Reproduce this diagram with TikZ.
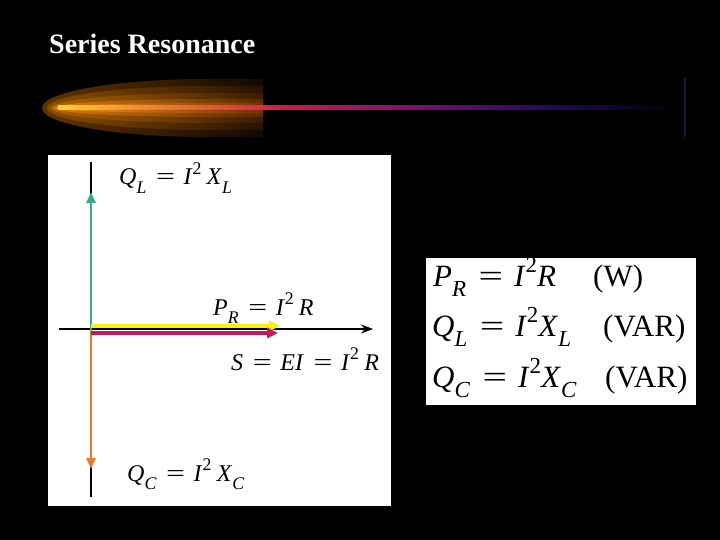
\documentclass[tikz,border=0pt]{standalone}
\usepackage{fontspec}
\usepackage{graphicx}
\setmainfont{Liberation Serif}
\usetikzlibrary{arrows.meta}
\newcommand{\lsub}[1]{\raisebox{-0.34em}{\scalebox{0.74}{\textit{#1}}}}
\newcommand{\lsup}[1]{\raisebox{0.42em}{\scalebox{0.74}{#1}}}
\newcommand{\myeq}{\hspace{0.4em}\scalebox{1.4}[1]{=}\hspace{0.36em}}
\definecolor{qlgreen}{HTML}{3AAA8C}
\definecolor{qcorange}{HTML}{E8782E}
\definecolor{pryellow}{HTML}{FFF000}
\definecolor{scrimson}{HTML}{C8185A}
\tikzset{
  lbl/.style={anchor=base west, font=\fontsize{24}{26}\selectfont, inner sep=0pt},
  eqn/.style={anchor=base west, font=\fontsize{31}{34}\selectfont, inner sep=0pt},
  vec/.style={line width=2.8pt, -{Triangle[length=11pt,width=9pt]}},
  hvec/.style={line width=4pt, -{Triangle[length=11pt,width=10pt]}},
  axis/.style={line width=1.1pt, black},
}
\begin{document}
\begin{tikzpicture}[x=1pt,y=-1pt]
\fill[black] (0,0) rectangle (720,540);
\useasboundingbox (0,0) rectangle (720,540);
% comet glow layers
\foreach \h/\lx/\lc/\rc in {29/42/603400/120800, 22/47/8A4C00/261200, 15/51/B06200/3A1C00, 9/54/D87C10/5A2A00, 5/56/F49420/7A3000}{
  \definecolor{lcol}{HTML}{\lc}\definecolor{rcol}{HTML}{\rc}
  \pgfmathsetmacro{\rx}{(263-\lx)*0.75}
  \pgfmathsetmacro{\cx}{\lx+\rx}
  \shade[left color=lcol, right color=rcol] (263,108-\h) -- (\cx,108-\h) arc[start angle=270,end angle=90,x radius=\rx,y radius=\h] -- (263,108+\h) -- cycle;
}
% core line
\foreach \xa/\xb/\ca/\cb in {58/110/FFD040/F8A030, 110/200/F8A030/E06030, 200/290/E06030/C81850, 290/420/C81850/781070, 420/550/781070/200860, 550/680/200860/000000}{
  \definecolor{ca}{HTML}{\ca}\definecolor{cb}{HTML}{\cb}
  \shade[left color=ca, right color=cb] (\xa,106) rectangle (\xb,110);
}
\coordinate (vt) at (685,78);
\coordinate (vb) at (685,137);
\draw[line width=1.5pt, color={rgb,255:red,40;green,16;blue,64}] (vt) -- (vb);
% title
\node[anchor=base west, inner sep=0pt, text=white, font=\fontsize{28}{32}\selectfont\bfseries] (title) at (49,54) {Series Resonance};
% panels
\fill[white] (48,155) rectangle (391,506);
\fill[white] (426,258) rectangle (696,405);
% axes
\coordinate (O) at (91,329);
\coordinate (ytop) at (91,162);
\coordinate (ybot) at (91,497);
\coordinate (xl) at (59,329);
\coordinate (xr) at (373,329);
\draw[axis] (ytop) -- (ybot);
\draw[axis, -{Stealth[length=12pt,width=9pt]}] (xl) -- (xr);
% vectors
\coordinate (QLtip) at (91,192);
\coordinate (QCtip) at (91,469);
\coordinate (Py0) at (91,326);
\coordinate (Py1) at (280,326);
\coordinate (Sc0) at (91,333);
\coordinate (Sc1) at (278,333);
\draw[vec, qlgreen] (O) -- (QLtip);
\draw[vec, qcorange] (O) -- (QCtip);
\draw[hvec, pryellow] (Py0) -- (Py1);
\draw[hvec, scrimson] (Sc0) -- (Sc1);
% labels
\node[lbl] (ql) at (119,185) {\textit{Q}\lsub{L}\myeq\textit{I}\lsup{2}\hspace{0.22em}\textit{X}\lsub{L}};
\node[lbl] (pr) at (213,315) {\textit{P}\lsub{R}\myeq\textit{I}\lsup{2}\hspace{0.22em}\textit{R}};
\node[lbl] (s) at (231,370) {\textit{S}\myeq\textit{EI}\myeq\textit{I}\lsup{2}\hspace{0.22em}\textit{R}};
\node[lbl] (qc) at (127,481) {\textit{Q}\lsub{C}\myeq\textit{I}\lsup{2}\hspace{0.22em}\textit{X}\lsub{C}};
% equations panel
\node[eqn] (e1) at (433,286) {\textit{P}\lsub{R}\myeq\textit{I}\lsup{2}\textit{R}};
\node[eqn] (u1) at (593,286) {(W)};
\node[eqn] (e2) at (432,336) {\textit{Q}\lsub{L}\myeq\textit{I}\lsup{2}\textit{X}\lsub{L}};
\node[eqn] (u2) at (603,336) {(VAR)};
\node[eqn] (e3) at (432,387) {\textit{Q}\lsub{C}\myeq\textit{I}\lsup{2}\textit{X}\lsub{C}};
\node[eqn] (u3) at (605,387) {(VAR)};
\end{tikzpicture}
\end{document}
